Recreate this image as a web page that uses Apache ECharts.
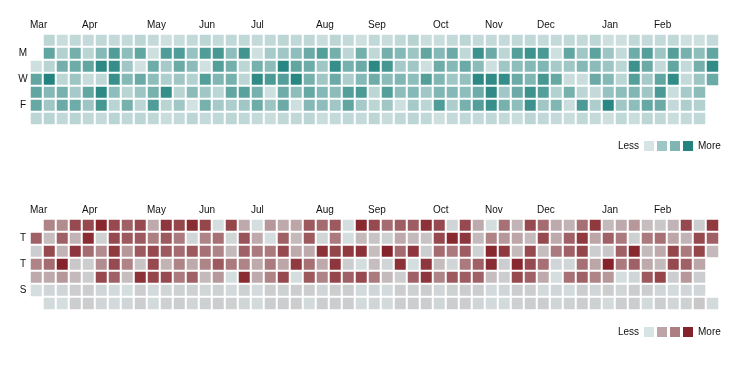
<!DOCTYPE html>
<html>
<head>
<meta charset="utf-8">
<script src="https://cdn.jsdelivr.net/npm/echarts@6/dist/echarts.min.js"></script>
<style>
html, body { margin: 0; padding: 0; background: #fff; }
#chart { width: 749px; height: 366px; }
</style>
</head>
<body>
<div id="chart"></div>
<script>
// ---- data ----
const startDate = [2016, 2, 1];   // 2016-03-01
const endDate = [2017, 2, 1];     // 2017-03-01
const monthNames = ['Jan', 'Feb', 'Mar', 'Apr', 'May', 'Jun', 'Jul', 'Aug', 'Sep', 'Oct', 'Nov', 'Dec'];
const topDayLabels = ['', 'M', '', 'W', '', 'F', ''];
const bottomDayLabels = ['', 'T', '', 'T', '', 'S', ''];

// top calendar: rows Sunday..Saturday, one value per week column (null = no day)
const topSun = [null, 15, 7, 12, 10, 12, 10, 10, 15, 10, 5, 8, 10, 15, 10, 12, 12, 10, 12, 15, 12, 13, 7, 15, 10, 5, 12, 8, 12, 18, 7, 7, 10, 15, 10, 10, 10, 12, 12, 10, 10, 12, 10, 15, 5, 5, 12, 10, 10, 12, 5, 5, 10];
const topMon = [null, 65, 20, 55, 17, 45, 75, 40, 65, 5, 75, 75, 35, 75, 80, 40, 83, 5, 27, 30, 40, 60, 72, 55, 15, 55, 13, 55, 45, 32, 65, 45, 60, 12, 85, 60, 15, 72, 85, 78, 5, 65, 30, 68, 32, 10, 58, 72, 32, 72, 53, 40, 65];
const topTue = [5, 17, 55, 58, 65, 95, 90, 30, 3, 58, 27, 60, 42, 3, 72, 55, 15, 53, 42, 97, 65, 58, 30, 90, 53, 60, 95, 80, 27, 30, 5, 58, 45, 60, 42, 5, 30, 40, 45, 48, 27, 30, 45, 42, 32, 15, 85, 60, 10, 65, 10, 55, 92];
const topWed = [65, 100, 15, 32, 8, 13, 88, 45, 60, 40, 22, 30, 20, 72, 48, 53, 15, 93, 77, 72, 97, 53, 30, 60, 23, 45, 58, 42, 48, 40, 72, 48, 30, 37, 95, 92, 90, 60, 48, 80, 63, 7, 7, 60, 45, 15, 72, 27, 65, 92, 10, 32, 60];
const topThu = [65, 45, 53, 27, 65, 95, 40, 17, 32, 53, 90, 17, 42, 30, 15, 65, 70, 53, 5, 58, 40, 63, 45, 42, 72, 77, 15, 72, 40, 45, 30, 48, 45, 40, 58, 93, 30, 60, 85, 72, 20, 53, 15, 10, 35, 40, 48, 30, 77, 7, 27, 42, null];
const topFri = [63, 30, 60, 58, 32, 80, 17, 53, 15, 75, 17, 30, 2, 53, 27, 23, 30, 58, 32, 60, 5, 45, 40, 30, 65, 27, 15, 30, 5, 27, 15, 75, 23, 53, 72, 88, 53, 40, 85, 30, 48, 7, 77, 23, 97, 30, 40, 63, 60, 10, 23, 20, null];
const topSat = [15, 17, 12, 17, 12, 10, 17, 12, 15, 13, 7, 10, 15, 10, 12, 15, 13, 10, 7, 12, 12, 15, 7, 10, 12, 10, 15, 8, 12, 15, 12, 5, 10, 12, 10, 12, 10, 7, 15, 12, 10, 7, 12, 10, 5, 12, 7, 15, 12, 7, 10, 12, null];

// bottom calendar: rows Monday..Sunday
const botMon = [null, 50, 45, 80, 80, 98, 80, 68, 80, 30, 90, 82, 95, 82, 3, 82, 30, 3, 40, 30, 32, 72, 62, 72, 3, 97, 80, 62, 70, 70, 93, 80, 7, 80, 30, 3, 60, 25, 80, 62, 30, 25, 60, 88, 22, 30, 40, 20, 15, 25, 80, 12, 88];
const botTue = [68, 20, 68, 25, 95, 10, 80, 72, 72, 52, 72, 55, 7, 50, 60, 8, 75, 30, 3, 68, 22, 72, 8, 55, 3, 22, 17, 10, 30, 22, 17, 80, 97, 90, 22, 50, 40, 32, 22, 80, 30, 68, 88, 32, 68, 55, 10, 55, 60, 32, 25, 80, 68];
const botWed = [12, 80, 25, 90, 62, 45, 88, 40, 72, 80, 72, 62, 72, 60, 50, 22, 68, 55, 55, 80, 30, 30, 93, 82, 88, 93, 20, 100, 62, 90, 12, 62, 55, 70, 10, 97, 88, 22, 80, 20, 55, 68, 82, 12, 15, 68, 97, 22, 30, 82, 55, 82, 22];
const botThu = [50, 62, 100, 15, 12, 45, 80, 50, 17, 80, 25, 50, 30, 50, 72, 55, 50, 30, 55, 32, 88, 60, 30, 90, 12, 3, 20, 7, 93, 3, 90, 20, 7, 55, 68, 95, 12, 97, 80, 60, 7, 7, 60, 32, 100, 55, 68, 30, 22, 80, 68, 32, null];
const botFri = [30, 30, 40, 22, 12, 80, 68, 20, 93, 82, 80, 55, 68, 22, 40, 3, 95, 30, 50, 80, 3, 72, 50, 82, 68, 80, 55, 22, 12, 68, 90, 50, 72, 70, 68, 20, 12, 80, 68, 30, 3, 60, 68, 50, 40, 3, 7, 72, 82, 12, 40, 12, null];
const botSat = [3, 7, 7, 12, 12, 7, 5, 3, 12, 5, 7, 10, 10, 7, 10, 5, 10, 5, 12, 10, 12, 12, 7, 12, 12, 5, 7, 5, 12, 10, 12, 7, 10, 12, 12, 5, 7, 12, 12, 5, 7, 5, 12, 7, 12, 7, 12, 12, 7, 5, 7, 7, null];
const botSun = [null, 5, 3, 12, 12, 7, 5, 7, 12, 5, 10, 12, 7, 10, 12, 10, 8, 5, 12, 12, 12, 5, 12, 12, 12, 5, 7, 5, 12, 12, 12, 7, 12, 12, 7, 5, 5, 10, 12, 12, 7, 10, 12, 10, 5, 12, 12, 5, 12, 7, 10, 15, 5];

const lowColor = '#d6e4e4';
const topHigh = '#23847f';
const botHigh = '#86232a';
const topLegendColors = ['#d6e4e4', '#9ec6c4', '#80b5b3', '#23847f'];
const botLegendColors = ['#d6e4e4', '#bca4a7', '#ac7e81', '#86232a'];

// ---- derived ----
const DAY = 86400000;
const start = Date.UTC(...startDate);
const end = Date.UTC(...endDate);
const firstSunday = start - new Date(start).getUTCDay() * DAY;
const nWeeks = Math.floor((end - firstSunday) / (7 * DAY)) + 1;
const weekCats = [];
for (let i = 0; i < nWeeks; i++) weekCats.push(new Date(firstSunday + i * 7 * DAY).toISOString().slice(0, 10));
const monthEdgeLabels = new Array(nWeeks + 1).fill('');
for (let m = 0; ; m++) {
  const d = Date.UTC(startDate[0], startDate[1] + m, 1);
  if (d >= end) break;
  const col = Math.floor((d + DAY - firstSunday) / (7 * DAY));
  monthEdgeLabels[col] = monthNames[new Date(d).getUTCMonth()];
}
const edgeCats = monthEdgeLabels.map((s, i) => i + ':' + s);

function toCells(rows) {
  const out = [];
  rows.forEach((row, r) => row.forEach((v, c) => { if (v !== null) out.push([c, r, v]); }));
  return out;
}
const topCells = toCells([topSun, topMon, topTue, topWed, topThu, topFri, topSat]);
const botCells = toCells([botMon, botTue, botWed, botThu, botFri, botSat, botSun]);

const FONT = 'Liberation Sans, Arial, sans-serif';
const TXT = '#111';
const gridDefs = [{ left: 30, top: 34, width: 689, height: 91 }, { left: 30, top: 219, width: 689, height: 91 }];

function monthAxis(gi) {
  return {
    gridIndex: gi, type: 'category', data: edgeCats, boundaryGap: false, position: 'top',
    axisLine: { show: false }, axisTick: { show: false }, splitLine: { show: false },
    axisLabel: { interval: 0, align: 'left', margin: 4, fontSize: 10, fontFamily: FONT, color: TXT,
      formatter: (v) => v.split(':')[1] }
  };
}
function weekAxis(gi) {
  return { gridIndex: gi, type: 'category', data: weekCats, show: false };
}
function dayAxis(gi, labels) {
  return {
    gridIndex: gi, type: 'category', data: ['0', '1', '2', '3', '4', '5', '6'], inverse: true,
    axisLine: { show: false }, axisTick: { show: false }, splitLine: { show: false },
    axisLabel: { interval: 0, align: 'center', margin: 7, fontSize: 10, fontFamily: FONT, color: TXT,
      formatter: (v, i) => labels[i] }
  };
}

function legend(y, colors) {
  const els = [];
  els.push({ type: 'text', left: null, x: 639, y: y + 5, style: { text: 'Less', fontSize: 10, fontFamily: FONT, fill: TXT, align: 'right', verticalAlign: 'middle' } });
  colors.forEach((c, i) => {
    els.push({ type: 'rect', x: 644 + i * 13, y: y, shape: { x: 0, y: 0, width: 10, height: 10 }, style: { fill: c } });
  });
  els.push({ type: 'text', x: 698, y: y + 5, style: { text: 'More', fontSize: 10, fontFamily: FONT, fill: TXT, align: 'left', verticalAlign: 'middle' } });
  return els;
}

const chart = echarts.init(document.getElementById('chart'), null, { renderer: 'canvas' });
chart.setOption({
  animation: false,
  backgroundColor: '#fff',
  grid: gridDefs,
  xAxis: [weekAxis(0), monthAxis(0), weekAxis(1), monthAxis(1)],
  yAxis: [dayAxis(0, topDayLabels), dayAxis(1, bottomDayLabels)],
  visualMap: [
    { show: false, seriesIndex: 0, dimension: 2, min: 0, max: 100, inRange: { color: [lowColor, topHigh] } },
    { show: false, seriesIndex: 1, dimension: 2, min: 0, max: 100, inRange: { color: [lowColor, botHigh] } }
  ],
  series: [
    { type: 'heatmap', xAxisIndex: 0, yAxisIndex: 0, data: topCells,
      itemStyle: { borderColor: '#fff', borderWidth: 2 }, emphasis: { disabled: true } },
    { type: 'heatmap', xAxisIndex: 2, yAxisIndex: 1, data: botCells,
      itemStyle: { borderColor: '#fff', borderWidth: 2 }, emphasis: { disabled: true } }
  ],
  graphic: legend(141, topLegendColors).concat(legend(327, botLegendColors))
});
</script>
</body>
</html>
